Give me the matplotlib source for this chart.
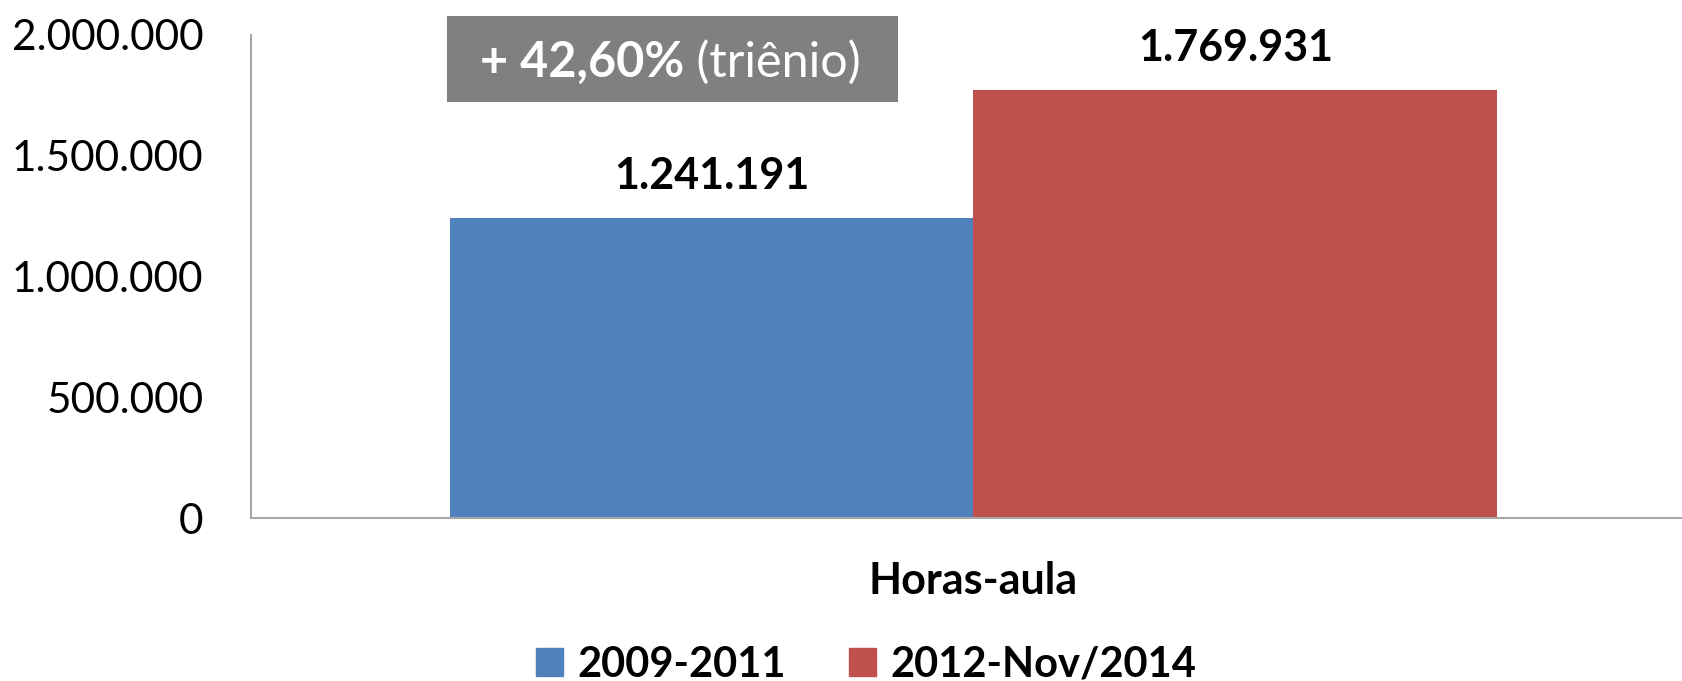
import matplotlib
matplotlib.use("Agg")
import matplotlib.pyplot as plt
from matplotlib.patches import Patch, Rectangle
from matplotlib.text import Annotation
import numpy as np

plt.rcParams['font.family'] = ['Lato', 'DejaVu Sans']

# data
categories = ["Horas-aula"]
series_names = ["2009-2011", "2012-Nov/2014"]
values_2009_2011 = [1241191]
values_2012_2014 = [1769931]
colors = ["#4F81BD", "#C0504D"]
y_ticks = [0, 500000, 1000000, 1500000, 2000000]


def fmt_br(v):
    # thousands separator as a dot, like the original
    return f"{v:,.0f}".replace(",", ".")


fig = plt.figure(figsize=(16.82, 6.81), dpi=100)
ax = fig.add_axes([0.149, 0.239, 0.851, 0.71])

x = np.arange(len(categories))
w = 0.366
bars1 = ax.bar(x - w / 2, values_2009_2011, w, color=colors[0], label=series_names[0])
bars2 = ax.bar(x + w / 2, values_2012_2014, w, color=colors[1], label=series_names[1])

for bars in (bars1, bars2):
    for b in bars:
        ax.annotate(fmt_br(b.get_height()), (b.get_x() + b.get_width() / 2, b.get_height()),
                    xytext=(0, 16), textcoords="offset points", ha="center", va="bottom",
                    fontsize=31, fontweight="bold")

ax.set_xlim(-0.505, 0.495)
ax.set_ylim(0, 2000000)
ax.set_yticks(y_ticks)
ax.set_yticklabels([fmt_br(v) for v in y_ticks])
ax.set_xticks(x)
ax.set_xticklabels(categories, fontweight="bold")
ax.tick_params(axis="y", length=0, pad=34, labelsize=30.5)
ax.tick_params(axis="x", length=0, pad=31, labelsize=31)
for s in ("top", "right"):
    ax.spines[s].set_visible(False)
for s in ("left", "bottom"):
    ax.spines[s].set_color("#A6A6A6")
    ax.spines[s].set_linewidth(1.5)

# gray call-out box
fig.patches.append(Rectangle((0.266, 0.850), 0.268, 0.1265, transform=fig.transFigure,
                             facecolor="#808080", edgecolor="none"))
t1 = fig.text(0.2855, 0.908, "+ 42,60%", color="white", fontsize=35, fontweight="bold",
              ha="left", va="center", zorder=5)
t2 = Annotation(" (triênio)", xy=(1, 0.5), xycoords=t1, va="center", ha="left",
                color="white", fontsize=35, zorder=5)
fig.add_artist(t2)

handles = [Patch(color=c) for c in colors]
fig.legend(handles, series_names, loc="center", bbox_to_anchor=(0.515, 0.024), ncol=2,
           frameon=False, prop={"size": 30, "weight": "bold"}, handlelength=0.65,
           handleheight=0.65, handletextpad=0.35, columnspacing=1.5)

fig.savefig("out.png", dpi=100)
